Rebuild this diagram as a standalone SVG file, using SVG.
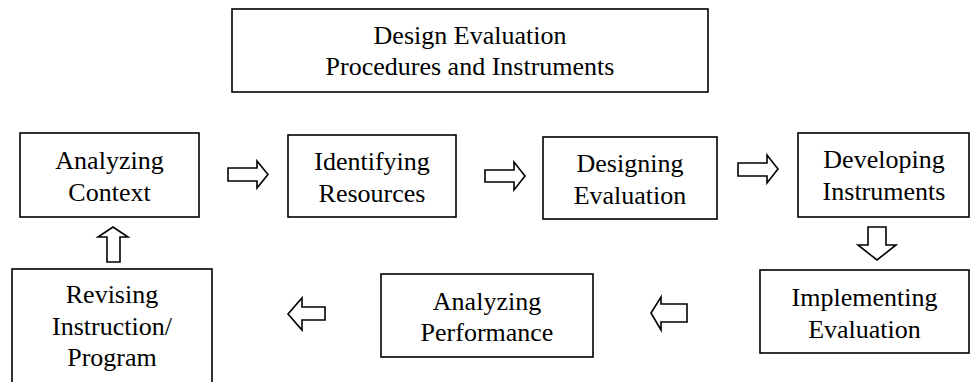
<svg xmlns="http://www.w3.org/2000/svg" width="971" height="382" viewBox="0 0 971 382">
<style>
.box{fill:#fff;stroke:#000;stroke-width:1.6}
.arr{fill:#fff;stroke:#000;stroke-width:1.6;stroke-linejoin:miter}
text{font-family:"Liberation Serif","Times New Roman",serif;font-size:26px;fill:#000;text-anchor:middle}
</style>
<rect width="971" height="382" fill="#fff"/>
<g id="title">
<rect class="box" x="232" y="9" width="476" height="83"/>
<text x="470" y="44">Design Evaluation</text>
<text x="470" y="75">Procedures and Instruments</text>
</g>
<g id="analyzing-context">
<rect class="box" x="20" y="133" width="179" height="84"/>
<text x="109.5" y="169">Analyzing</text>
<text x="109.5" y="201">Context</text>
</g>
<g id="identifying-resources">
<rect class="box" x="288" y="135" width="168" height="82"/>
<text x="372" y="170">Identifying</text>
<text x="372" y="202">Resources</text>
</g>
<g id="designing-evaluation">
<rect class="box" x="543" y="137" width="174" height="82"/>
<text x="630" y="172">Designing</text>
<text x="630" y="204">Evaluation</text>
</g>
<g id="developing-instruments">
<rect class="box" x="798" y="133" width="171" height="84"/>
<text x="884" y="168">Developing</text>
<text x="884" y="200">Instruments</text>
</g>
<g id="implementing-evaluation">
<rect class="box" x="760" y="270" width="209" height="83"/>
<text x="864.5" y="306">Implementing</text>
<text x="864.5" y="338">Evaluation</text>
</g>
<g id="analyzing-performance">
<rect class="box" x="381" y="274" width="212" height="83"/>
<text x="487" y="310">Analyzing</text>
<text x="487" y="341">Performance</text>
</g>
<g id="revising-instruction">
<rect class="box" x="12" y="269" width="200" height="125"/>
<text x="112" y="303">Revising</text>
<text x="112" y="335">Instruction/</text>
<text x="112" y="366">Program</text>
</g>
<g id="connectors">
<path class="arr" d="M228,168 H257 V161 L268,174.5 L257,188 V181 H228 Z"/>
<path class="arr" d="M485,170 H514 V162 L525,176 L514,190 V182 H485 Z"/>
<path class="arr" d="M738,163 H767 V155 L778,169 L767,183 V176 H738 Z"/>
<path class="arr" d="M868,227 H886 V245 H896 L877,260 L858,245 H868 Z"/>
<path class="arr" d="M687,304 H661 V297 L651,313 L661,330 V322 H687 Z"/>
<path class="arr" d="M325,307 H302 V298 L288,314 L302,330 V320 H325 Z"/>
<path class="arr" d="M107,262 V237 H98 L113,227 L128,237 H120 V262 Z"/>
</g>
</svg>
